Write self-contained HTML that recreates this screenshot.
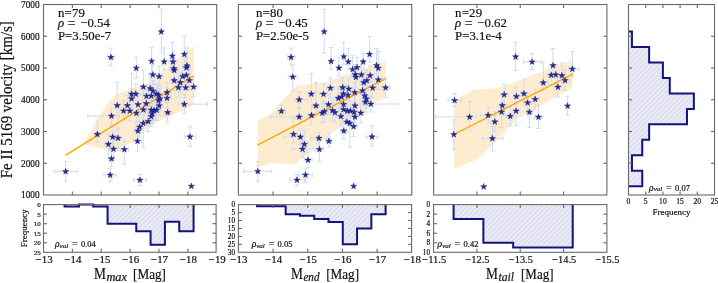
<!DOCTYPE html><html><head><meta charset="utf-8"><style>html,body{margin:0;padding:0;background:#fff;overflow:hidden;}svg{display:block;}</style></head><body>
<svg width="718" height="283" viewBox="0 0 718 283" font-family='"Liberation Serif", serif'>
<defs><pattern id="hatch" width="3.5" height="3.5" patternUnits="userSpaceOnUse" patternTransform="rotate(45)"><rect width="3.5" height="3.5" fill="#efeff8"/><rect width="0.9" height="3.5" fill="#d0d0e8"/><rect x="1.75" width="0.5" height="3.5" fill="#e2e2f2"/></pattern></defs>
<rect width="718" height="283" fill="#fff"/>
<polygon points="83.3,144.2 90,131.9 97.7,118.7 106.5,105.5 113.1,96.8 120.8,92.4 128,90.2 145,84.5 155.3,77.6 193.6,46.1 193.6,105.4 170,116 156,122.4 145.8,130 134.3,140 120,150.7 104.2,148.9" fill="#feecd0"/>
<g stroke="#cfdbee" stroke-width="1" fill="none">
<path d="M161.3,9.2V53.0M159.1,9.2h4.4M159.1,53.0h4.4"/>
<path d="M110.9,48.2V65.6M108.7,48.2h4.4M108.7,65.6h4.4M107.1,57.2H114.7M107.1,55.0v4.4M114.7,55.0v4.4"/>
<path d="M136.3,57.1V78.1M134.1,57.1h4.4M134.1,78.1h4.4"/>
<path d="M151.6,47.3V72.5M149.4,47.3h4.4M149.4,72.5h4.4"/>
<path d="M164.2,47.9V69.7M162.0,47.9h4.4M162.0,69.7h4.4"/>
<path d="M172.4,42.6V64.0M170.2,42.6h4.4M170.2,64.0h4.4"/>
<path d="M173.0,51.7V71.7M170.8,51.7h4.4M170.8,71.7h4.4M169.0,61.7H177.0M169.0,59.5v4.4M177.0,59.5v4.4"/>
<path d="M184.3,36.5V62.2M182.1,36.5h4.4M182.1,62.2h4.4"/>
<path d="M187.0,47.9V73.7M184.8,47.9h4.4M184.8,73.7h4.4"/>
<path d="M173.9,58.5V78.5M171.7,58.5h4.4M171.7,78.5h4.4M169.9,68.5H177.9M169.9,66.3v4.4M177.9,66.3v4.4"/>
<path d="M152.8,64.7V84.7M150.6,64.7h4.4M150.6,84.7h4.4M148.8,74.7H156.8M148.8,72.5v4.4M156.8,72.5v4.4"/>
<path d="M159.1,66.3V86.3M156.9,66.3h4.4M156.9,86.3h4.4M155.1,76.3H163.1M155.1,74.1v4.4M163.1,74.1v4.4"/>
<path d="M182.7,66.3V86.3M180.5,66.3h4.4M180.5,86.3h4.4M178.7,76.3H186.7M178.7,74.1v4.4M186.7,74.1v4.4"/>
<path d="M186.3,65.1V85.1M184.1,65.1h4.4M184.1,85.1h4.4M182.3,75.1H190.3M182.3,72.9v4.4M190.3,72.9v4.4"/>
<path d="M174.2,70.5V90.5M172.0,70.5h4.4M172.0,90.5h4.4M170.2,80.5H178.2M170.2,78.3v4.4M178.2,78.3v4.4"/>
<path d="M180.3,72.4V92.4M178.1,72.4h4.4M178.1,92.4h4.4M176.3,82.4H184.3M176.3,80.2v4.4M184.3,80.2v4.4"/>
<path d="M189.4,70.3V90.3M187.2,70.3h4.4M187.2,90.3h4.4M185.4,80.3H193.4M185.4,78.1v4.4M193.4,78.1v4.4"/>
<path d="M143.4,70.1V94.8M141.2,70.1h4.4M141.2,94.8h4.4M140.4,86.8H146.4M140.4,84.6v4.4M146.4,84.6v4.4"/>
<path d="M150.2,78.5V98.5M148.0,78.5h4.4M148.0,98.5h4.4M146.2,88.5H154.2M146.2,86.3v4.4M154.2,86.3v4.4"/>
<path d="M153.0,80.8V100.8M150.8,80.8h4.4M150.8,100.8h4.4M149.0,90.8H157.0M149.0,88.6v4.4M157.0,88.6v4.4"/>
<path d="M156.4,83.9V103.9M154.2,83.9h4.4M154.2,103.9h4.4M152.4,93.9H160.4M152.4,91.7v4.4M160.4,91.7v4.4"/>
<path d="M158.6,85.0V105.0M156.4,85.0h4.4M156.4,105.0h4.4M154.6,95.0H162.6M154.6,92.8v4.4M162.6,92.8v4.4"/>
<path d="M146.5,86.1V106.1M144.3,86.1h4.4M144.3,106.1h4.4M142.5,96.1H150.5M142.5,93.9v4.4M150.5,93.9v4.4"/>
<path d="M151.3,85.9V105.9M149.1,85.9h4.4M149.1,105.9h4.4M147.3,95.9H155.3M147.3,93.7v4.4M155.3,93.7v4.4"/>
<path d="M167.1,82.5V102.5M164.9,82.5h4.4M164.9,102.5h4.4M163.1,92.5H171.1M163.1,90.3v4.4M171.1,90.3v4.4"/>
<path d="M167.1,88.1V108.1M164.9,88.1h4.4M164.9,108.1h4.4M163.1,98.1H171.1M163.1,95.9v4.4M171.1,95.9v4.4"/>
<path d="M159.8,88.7V108.7M157.6,88.7h4.4M157.6,108.7h4.4M155.8,98.7H163.8M155.8,96.5v4.4M163.8,96.5v4.4"/>
<path d="M178.4,77.4V97.4M176.2,77.4h4.4M176.2,97.4h4.4M174.4,87.4H182.4M174.4,85.2v4.4M182.4,85.2v4.4"/>
<path d="M185.7,77.6V97.6M183.5,77.6h4.4M183.5,97.6h4.4M181.7,87.6H189.7M181.7,85.4v4.4M189.7,85.4v4.4"/>
<path d="M193.6,76.8V96.8M191.4,76.8h4.4M191.4,96.8h4.4M189.6,86.8H197.6M189.6,84.6v4.4M197.6,84.6v4.4"/>
<path d="M131.6,73.3V101.9M129.4,73.3h4.4M129.4,101.9h4.4M128.6,93.9H134.6M128.6,91.7v4.4M134.6,91.7v4.4"/>
<path d="M135.8,83.9V103.9M133.6,83.9h4.4M133.6,103.9h4.4M131.8,93.9H139.8M131.8,91.7v4.4M139.8,91.7v4.4"/>
<path d="M131.6,88.6V108.6M129.4,88.6h4.4M129.4,108.6h4.4M127.6,98.6H135.6M127.6,96.4v4.4M135.6,96.4v4.4"/>
<path d="M117.2,82.4V130.4M115.0,82.4h4.4M115.0,130.4h4.4M114.2,105.4H120.2M114.2,103.2v4.4M120.2,103.2v4.4"/>
<path d="M127.4,95.4V115.4M125.2,95.4h4.4M125.2,115.4h4.4M123.4,105.4H131.4M123.4,103.2v4.4M131.4,103.2v4.4"/>
<path d="M138.0,94.5V114.5M135.8,94.5h4.4M135.8,114.5h4.4M134.0,104.5H142.0M134.0,102.3v4.4M142.0,102.3v4.4"/>
<path d="M146.2,93.4V113.4M144.0,93.4h4.4M144.0,113.4h4.4M142.2,103.4H150.2M142.2,101.2v4.4M150.2,101.2v4.4"/>
<path d="M158.6,90.5V110.5M156.4,90.5h4.4M156.4,110.5h4.4M154.6,100.5H162.6M154.6,98.3v4.4M162.6,98.3v4.4"/>
<path d="M159.2,95.6V115.6M157.0,95.6h4.4M157.0,115.6h4.4M155.2,105.6H163.2M155.2,103.4v4.4M163.2,103.4v4.4"/>
<path d="M184.3,94.7V113.5M182.1,94.7h4.4M182.1,113.5h4.4M178.3,104.2H207.4M178.3,102.0v4.4M207.4,102.0v4.4"/>
<path d="M123.6,100.8V120.8M121.4,100.8h4.4M121.4,120.8h4.4M119.6,110.8H127.6M119.6,108.6v4.4M127.6,108.6v4.4"/>
<path d="M129.9,100.8V120.8M127.7,100.8h4.4M127.7,120.8h4.4M125.9,110.8H133.9M125.9,108.6v4.4M133.9,108.6v4.4"/>
<path d="M136.4,103.1V123.1M134.2,103.1h4.4M134.2,123.1h4.4M132.4,113.1H140.4M132.4,110.9v4.4M140.4,110.9v4.4"/>
<path d="M143.4,99.6V119.6M141.2,99.6h4.4M141.2,119.6h4.4M139.4,109.6H147.4M139.4,107.4v4.4M147.4,107.4v4.4"/>
<path d="M151.3,99.9V119.9M149.1,99.9h4.4M149.1,119.9h4.4M147.3,109.9H155.3M147.3,107.7v4.4M155.3,107.7v4.4"/>
<path d="M154.1,100.4V120.4M151.9,100.4h4.4M151.9,120.4h4.4M150.1,110.4H158.1M150.1,108.2v4.4M158.1,108.2v4.4"/>
<path d="M156.6,100.0V120.0M154.4,100.0h4.4M154.4,120.0h4.4M152.6,110.0H160.6M152.6,107.8v4.4M160.6,107.8v4.4"/>
<path d="M152.1,103.6V123.6M149.9,103.6h4.4M149.9,123.6h4.4M148.1,113.6H156.1M148.1,111.4v4.4M156.1,111.4v4.4"/>
<path d="M151.3,106.5V126.5M149.1,106.5h4.4M149.1,126.5h4.4M147.3,116.5H155.3M147.3,114.3v4.4M155.3,114.3v4.4"/>
<path d="M167.7,102.4V122.4M165.5,102.4h4.4M165.5,122.4h4.4M163.7,112.4H171.7M163.7,110.2v4.4M171.7,110.2v4.4"/>
<path d="M111.5,108.4V125.4M109.3,108.4h4.4M109.3,125.4h4.4M87.8,116.0H119.5M87.8,113.8v4.4M119.5,113.8v4.4"/>
<path d="M148.2,111.4V131.4M146.0,111.4h4.4M146.0,131.4h4.4M144.2,121.4H152.2M144.2,119.2v4.4M152.2,119.2v4.4"/>
<path d="M143.3,115.2V147.2M141.1,115.2h4.4M141.1,147.2h4.4M140.3,123.2H146.3M140.3,121.0v4.4M146.3,121.0v4.4"/>
<path d="M139.7,117.0V137.0M137.5,117.0h4.4M137.5,137.0h4.4M135.7,127.0H143.7M135.7,124.8v4.4M143.7,124.8v4.4"/>
<path d="M137.9,120.8V140.8M135.7,120.8h4.4M135.7,140.8h4.4M133.9,130.8H141.9M133.9,128.6v4.4M141.9,128.6v4.4"/>
<path d="M137.5,131.1V151.1M135.3,131.1h4.4M135.3,151.1h4.4M133.5,141.1H141.5M133.5,138.9v4.4M141.5,138.9v4.4"/>
<path d="M190.0,126.7V146.2M187.8,126.7h4.4M187.8,146.2h4.4M184.2,136.7H195.8M184.2,134.5v4.4M195.8,134.5v4.4"/>
<path d="M139.9,174.4V185.6M137.7,174.4h4.4M137.7,185.6h4.4M133.3,180.0H146.5M133.3,177.8v4.4M146.5,177.8v4.4"/>
<path d="M191.4,186.1V186.1M189.2,186.1h4.4M189.2,186.1h4.4"/>
<path d="M97.3,120.2V142.2M95.1,120.2h4.4M95.1,142.2h4.4M94.3,134.2H100.3M94.3,132.0v4.4M100.3,132.0v4.4"/>
<path d="M112.7,126.9V146.9M110.5,126.9h4.4M110.5,146.9h4.4M108.7,136.9H116.7M108.7,134.7v4.4M116.7,134.7v4.4"/>
<path d="M118.1,128.1V148.1M115.9,128.1h4.4M115.9,148.1h4.4M114.1,138.1H122.1M114.1,135.9v4.4M122.1,135.9v4.4"/>
<path d="M108.4,134.2V154.2M106.2,134.2h4.4M106.2,154.2h4.4M104.4,144.2H112.4M104.4,142.0v4.4M112.4,142.0v4.4"/>
<path d="M113.5,139.0V159.0M111.3,139.0h4.4M111.3,159.0h4.4M109.5,149.0H117.5M109.5,146.8v4.4M117.5,146.8v4.4"/>
<path d="M124.4,141.4V163.8M122.2,141.4h4.4M122.2,163.8h4.4M120.4,149.4H128.4M120.4,147.2v4.4M128.4,147.2v4.4"/>
<path d="M111.5,150.7V166.7M109.3,150.7h4.4M109.3,166.7h4.4M108.5,158.7H114.5M108.5,156.5v4.4M114.5,156.5v4.4"/>
<path d="M65.6,161.4V181.0M63.4,161.4h4.4M63.4,181.0h4.4M54.0,171.4H77.3M54.0,169.2v4.4M77.3,169.2v4.4"/>
<path d="M110.2,168.3V181.6M108.0,168.3h4.4M108.0,181.6h4.4M104.0,175.0H116.1M104.0,172.8v4.4M116.1,172.8v4.4"/>
<path d="M174.3,60.2V80.2M172.1,60.2h4.4M172.1,80.2h4.4M170.3,70.2H178.3M170.3,68.0v4.4M178.3,68.0v4.4"/>
<path d="M186.4,57.6V77.6M184.2,57.6h4.4M184.2,77.6h4.4M182.4,67.6H190.4M182.4,65.4v4.4M190.4,65.4v4.4"/>
</g>
<line x1="65.4" y1="155.4" x2="193.6" y2="75.7" stroke="#ffa500" stroke-width="1.3"/>
<g fill="#28288e" stroke="#1c1c82" stroke-width="0.45"><polygon points="161.30,28.45 162.03,30.70 164.39,30.70 162.48,32.08 163.21,34.33 161.30,32.94 159.39,34.33 160.12,32.08 158.21,30.70 160.57,30.70"/><polygon points="110.90,54.05 111.63,56.30 113.99,56.30 112.08,57.68 112.81,59.93 110.90,58.54 108.99,59.93 109.72,57.68 107.81,56.30 110.17,56.30"/><polygon points="136.30,64.95 137.03,67.20 139.39,67.20 137.48,68.58 138.21,70.83 136.30,69.44 134.39,70.83 135.12,68.58 133.21,67.20 135.57,67.20"/><polygon points="151.60,57.95 152.33,60.20 154.69,60.20 152.78,61.58 153.51,63.83 151.60,62.44 149.69,63.83 150.42,61.58 148.51,60.20 150.87,60.20"/><polygon points="164.20,58.55 164.93,60.80 167.29,60.80 165.38,62.18 166.11,64.43 164.20,63.04 162.29,64.43 163.02,62.18 161.11,60.80 163.47,60.80"/><polygon points="172.40,52.85 173.13,55.10 175.49,55.10 173.58,56.48 174.31,58.73 172.40,57.34 170.49,58.73 171.22,56.48 169.31,55.10 171.67,55.10"/><polygon points="173.00,58.55 173.73,60.80 176.09,60.80 174.18,62.18 174.91,64.43 173.00,63.04 171.09,64.43 171.82,62.18 169.91,60.80 172.27,60.80"/><polygon points="184.30,51.05 185.03,53.30 187.39,53.30 185.48,54.68 186.21,56.93 184.30,55.54 182.39,56.93 183.12,54.68 181.21,53.30 183.57,53.30"/><polygon points="187.00,62.55 187.73,64.80 190.09,64.80 188.18,66.18 188.91,68.43 187.00,67.04 185.09,68.43 185.82,66.18 183.91,64.80 186.27,64.80"/><polygon points="173.90,65.35 174.63,67.60 176.99,67.60 175.08,68.98 175.81,71.23 173.90,69.84 171.99,71.23 172.72,68.98 170.81,67.60 173.17,67.60"/><polygon points="152.80,71.55 153.53,73.80 155.89,73.80 153.98,75.18 154.71,77.43 152.80,76.04 150.89,77.43 151.62,75.18 149.71,73.80 152.07,73.80"/><polygon points="159.10,73.15 159.83,75.40 162.19,75.40 160.28,76.78 161.01,79.03 159.10,77.64 157.19,79.03 157.92,76.78 156.01,75.40 158.37,75.40"/><polygon points="182.70,73.15 183.43,75.40 185.79,75.40 183.88,76.78 184.61,79.03 182.70,77.64 180.79,79.03 181.52,76.78 179.61,75.40 181.97,75.40"/><polygon points="186.30,71.95 187.03,74.20 189.39,74.20 187.48,75.58 188.21,77.83 186.30,76.44 184.39,77.83 185.12,75.58 183.21,74.20 185.57,74.20"/><polygon points="174.20,77.35 174.93,79.60 177.29,79.60 175.38,80.98 176.11,83.23 174.20,81.84 172.29,83.23 173.02,80.98 171.11,79.60 173.47,79.60"/><polygon points="180.30,79.25 181.03,81.50 183.39,81.50 181.48,82.88 182.21,85.13 180.30,83.74 178.39,85.13 179.12,82.88 177.21,81.50 179.57,81.50"/><polygon points="189.40,77.15 190.13,79.40 192.49,79.40 190.58,80.78 191.31,83.03 189.40,81.64 187.49,83.03 188.22,80.78 186.31,79.40 188.67,79.40"/><polygon points="143.40,83.65 144.13,85.90 146.49,85.90 144.58,87.28 145.31,89.53 143.40,88.14 141.49,89.53 142.22,87.28 140.31,85.90 142.67,85.90"/><polygon points="150.20,85.35 150.93,87.60 153.29,87.60 151.38,88.98 152.11,91.23 150.20,89.84 148.29,91.23 149.02,88.98 147.11,87.60 149.47,87.60"/><polygon points="153.00,87.65 153.73,89.90 156.09,89.90 154.18,91.28 154.91,93.53 153.00,92.14 151.09,93.53 151.82,91.28 149.91,89.90 152.27,89.90"/><polygon points="156.40,90.75 157.13,93.00 159.49,93.00 157.58,94.38 158.31,96.63 156.40,95.24 154.49,96.63 155.22,94.38 153.31,93.00 155.67,93.00"/><polygon points="158.60,91.85 159.33,94.10 161.69,94.10 159.78,95.48 160.51,97.73 158.60,96.34 156.69,97.73 157.42,95.48 155.51,94.10 157.87,94.10"/><polygon points="146.50,92.95 147.23,95.20 149.59,95.20 147.68,96.58 148.41,98.83 146.50,97.44 144.59,98.83 145.32,96.58 143.41,95.20 145.77,95.20"/><polygon points="151.30,92.75 152.03,95.00 154.39,95.00 152.48,96.38 153.21,98.63 151.30,97.24 149.39,98.63 150.12,96.38 148.21,95.00 150.57,95.00"/><polygon points="167.10,89.35 167.83,91.60 170.19,91.60 168.28,92.98 169.01,95.23 167.10,93.84 165.19,95.23 165.92,92.98 164.01,91.60 166.37,91.60"/><polygon points="167.10,94.95 167.83,97.20 170.19,97.20 168.28,98.58 169.01,100.83 167.10,99.44 165.19,100.83 165.92,98.58 164.01,97.20 166.37,97.20"/><polygon points="159.80,95.55 160.53,97.80 162.89,97.80 160.98,99.18 161.71,101.43 159.80,100.04 157.89,101.43 158.62,99.18 156.71,97.80 159.07,97.80"/><polygon points="178.40,84.25 179.13,86.50 181.49,86.50 179.58,87.88 180.31,90.13 178.40,88.74 176.49,90.13 177.22,87.88 175.31,86.50 177.67,86.50"/><polygon points="185.70,84.45 186.43,86.70 188.79,86.70 186.88,88.08 187.61,90.33 185.70,88.94 183.79,90.33 184.52,88.08 182.61,86.70 184.97,86.70"/><polygon points="193.60,83.65 194.33,85.90 196.69,85.90 194.78,87.28 195.51,89.53 193.60,88.14 191.69,89.53 192.42,87.28 190.51,85.90 192.87,85.90"/><polygon points="131.60,90.75 132.33,93.00 134.69,93.00 132.78,94.38 133.51,96.63 131.60,95.24 129.69,96.63 130.42,94.38 128.51,93.00 130.87,93.00"/><polygon points="135.80,90.75 136.53,93.00 138.89,93.00 136.98,94.38 137.71,96.63 135.80,95.24 133.89,96.63 134.62,94.38 132.71,93.00 135.07,93.00"/><polygon points="131.60,95.45 132.33,97.70 134.69,97.70 132.78,99.08 133.51,101.33 131.60,99.94 129.69,101.33 130.42,99.08 128.51,97.70 130.87,97.70"/><polygon points="117.20,102.25 117.93,104.50 120.29,104.50 118.38,105.88 119.11,108.13 117.20,106.74 115.29,108.13 116.02,105.88 114.11,104.50 116.47,104.50"/><polygon points="127.40,102.25 128.13,104.50 130.49,104.50 128.58,105.88 129.31,108.13 127.40,106.74 125.49,108.13 126.22,105.88 124.31,104.50 126.67,104.50"/><polygon points="138.00,101.35 138.73,103.60 141.09,103.60 139.18,104.98 139.91,107.23 138.00,105.84 136.09,107.23 136.82,104.98 134.91,103.60 137.27,103.60"/><polygon points="146.20,100.25 146.93,102.50 149.29,102.50 147.38,103.88 148.11,106.13 146.20,104.74 144.29,106.13 145.02,103.88 143.11,102.50 145.47,102.50"/><polygon points="158.60,97.35 159.33,99.60 161.69,99.60 159.78,100.98 160.51,103.23 158.60,101.84 156.69,103.23 157.42,100.98 155.51,99.60 157.87,99.60"/><polygon points="159.20,102.45 159.93,104.70 162.29,104.70 160.38,106.08 161.11,108.33 159.20,106.94 157.29,108.33 158.02,106.08 156.11,104.70 158.47,104.70"/><polygon points="184.30,101.05 185.03,103.30 187.39,103.30 185.48,104.68 186.21,106.93 184.30,105.54 182.39,106.93 183.12,104.68 181.21,103.30 183.57,103.30"/><polygon points="123.60,107.65 124.33,109.90 126.69,109.90 124.78,111.28 125.51,113.53 123.60,112.14 121.69,113.53 122.42,111.28 120.51,109.90 122.87,109.90"/><polygon points="129.90,107.65 130.63,109.90 132.99,109.90 131.08,111.28 131.81,113.53 129.90,112.14 127.99,113.53 128.72,111.28 126.81,109.90 129.17,109.90"/><polygon points="136.40,109.95 137.13,112.20 139.49,112.20 137.58,113.58 138.31,115.83 136.40,114.44 134.49,115.83 135.22,113.58 133.31,112.20 135.67,112.20"/><polygon points="143.40,106.45 144.13,108.70 146.49,108.70 144.58,110.08 145.31,112.33 143.40,110.94 141.49,112.33 142.22,110.08 140.31,108.70 142.67,108.70"/><polygon points="151.30,106.75 152.03,109.00 154.39,109.00 152.48,110.38 153.21,112.63 151.30,111.24 149.39,112.63 150.12,110.38 148.21,109.00 150.57,109.00"/><polygon points="154.10,107.25 154.83,109.50 157.19,109.50 155.28,110.88 156.01,113.13 154.10,111.74 152.19,113.13 152.92,110.88 151.01,109.50 153.37,109.50"/><polygon points="156.60,106.85 157.33,109.10 159.69,109.10 157.78,110.48 158.51,112.73 156.60,111.34 154.69,112.73 155.42,110.48 153.51,109.10 155.87,109.10"/><polygon points="152.10,110.45 152.83,112.70 155.19,112.70 153.28,114.08 154.01,116.33 152.10,114.94 150.19,116.33 150.92,114.08 149.01,112.70 151.37,112.70"/><polygon points="151.30,113.35 152.03,115.60 154.39,115.60 152.48,116.98 153.21,119.23 151.30,117.84 149.39,119.23 150.12,116.98 148.21,115.60 150.57,115.60"/><polygon points="167.70,109.25 168.43,111.50 170.79,111.50 168.88,112.88 169.61,115.13 167.70,113.74 165.79,115.13 166.52,112.88 164.61,111.50 166.97,111.50"/><polygon points="111.50,112.85 112.23,115.10 114.59,115.10 112.68,116.48 113.41,118.73 111.50,117.34 109.59,118.73 110.32,116.48 108.41,115.10 110.77,115.10"/><polygon points="148.20,118.25 148.93,120.50 151.29,120.50 149.38,121.88 150.11,124.13 148.20,122.74 146.29,124.13 147.02,121.88 145.11,120.50 147.47,120.50"/><polygon points="143.30,120.05 144.03,122.30 146.39,122.30 144.48,123.68 145.21,125.93 143.30,124.54 141.39,125.93 142.12,123.68 140.21,122.30 142.57,122.30"/><polygon points="139.70,123.85 140.43,126.10 142.79,126.10 140.88,127.48 141.61,129.73 139.70,128.34 137.79,129.73 138.52,127.48 136.61,126.10 138.97,126.10"/><polygon points="137.90,127.65 138.63,129.90 140.99,129.90 139.08,131.28 139.81,133.53 137.90,132.14 135.99,133.53 136.72,131.28 134.81,129.90 137.17,129.90"/><polygon points="137.50,137.95 138.23,140.20 140.59,140.20 138.68,141.58 139.41,143.83 137.50,142.44 135.59,143.83 136.32,141.58 134.41,140.20 136.77,140.20"/><polygon points="190.00,133.55 190.73,135.80 193.09,135.80 191.18,137.18 191.91,139.43 190.00,138.04 188.09,139.43 188.82,137.18 186.91,135.80 189.27,135.80"/><polygon points="139.90,176.85 140.63,179.10 142.99,179.10 141.08,180.48 141.81,182.73 139.90,181.34 137.99,182.73 138.72,180.48 136.81,179.10 139.17,179.10"/><polygon points="191.40,182.95 192.13,185.20 194.49,185.20 192.58,186.58 193.31,188.83 191.40,187.44 189.49,188.83 190.22,186.58 188.31,185.20 190.67,185.20"/><polygon points="97.30,131.05 98.03,133.30 100.39,133.30 98.48,134.68 99.21,136.93 97.30,135.54 95.39,136.93 96.12,134.68 94.21,133.30 96.57,133.30"/><polygon points="112.70,133.75 113.43,136.00 115.79,136.00 113.88,137.38 114.61,139.63 112.70,138.24 110.79,139.63 111.52,137.38 109.61,136.00 111.97,136.00"/><polygon points="118.10,134.95 118.83,137.20 121.19,137.20 119.28,138.58 120.01,140.83 118.10,139.44 116.19,140.83 116.92,138.58 115.01,137.20 117.37,137.20"/><polygon points="108.40,141.05 109.13,143.30 111.49,143.30 109.58,144.68 110.31,146.93 108.40,145.54 106.49,146.93 107.22,144.68 105.31,143.30 107.67,143.30"/><polygon points="113.50,145.85 114.23,148.10 116.59,148.10 114.68,149.48 115.41,151.73 113.50,150.34 111.59,151.73 112.32,149.48 110.41,148.10 112.77,148.10"/><polygon points="124.40,146.25 125.13,148.50 127.49,148.50 125.58,149.88 126.31,152.13 124.40,150.74 122.49,152.13 123.22,149.88 121.31,148.50 123.67,148.50"/><polygon points="111.50,155.55 112.23,157.80 114.59,157.80 112.68,159.18 113.41,161.43 111.50,160.04 109.59,161.43 110.32,159.18 108.41,157.80 110.77,157.80"/><polygon points="65.60,168.25 66.33,170.50 68.69,170.50 66.78,171.88 67.51,174.13 65.60,172.74 63.69,174.13 64.42,171.88 62.51,170.50 64.87,170.50"/><polygon points="110.20,171.85 110.93,174.10 113.29,174.10 111.38,175.48 112.11,177.73 110.20,176.34 108.29,177.73 109.02,175.48 107.11,174.10 109.47,174.10"/><polygon points="174.30,67.05 175.03,69.30 177.39,69.30 175.48,70.68 176.21,72.93 174.30,71.54 172.39,72.93 173.12,70.68 171.21,69.30 173.57,69.30"/><polygon points="186.40,64.45 187.13,66.70 189.49,66.70 187.58,68.08 188.31,70.33 186.40,68.94 184.49,70.33 185.22,68.08 183.31,66.70 185.67,66.70"/></g>
<polygon points="257.5,120.8 270.7,114.2 282.8,100 286.5,96 296.2,86 325,82 385.6,60.8 385.6,96.5 340.8,126 325,138.5 304.4,156.7 294.5,164.2 271.2,163.1 257.7,168" fill="#feecd0"/>
<g stroke="#cfdbee" stroke-width="1" fill="none">
<path d="M324.2,9.2V53.0M322.0,9.2h4.4M322.0,53.0h4.4"/>
<path d="M291.1,48.1V65.2M288.9,48.1h4.4M288.9,65.2h4.4M287.5,57.2H295.0M287.5,55.0v4.4M295.0,55.0v4.4"/>
<path d="M331.1,47.5V69.2M328.9,47.5h4.4M328.9,69.2h4.4"/>
<path d="M338.9,57.6V75.9M336.7,57.6h4.4M336.7,75.9h4.4"/>
<path d="M343.8,42.3V64.6M341.6,42.3h4.4M341.6,64.6h4.4"/>
<path d="M348.3,48.4V69.7M346.1,48.4h4.4M346.1,69.7h4.4"/>
<path d="M352.6,55.4V77.3M350.4,55.4h4.4M350.4,77.3h4.4"/>
<path d="M357.1,57.4V77.4M354.9,57.4h4.4M354.9,77.4h4.4M353.1,67.4H361.1M353.1,65.2v4.4M361.1,65.2v4.4"/>
<path d="M363.2,53.6V69.7M361.0,53.6h4.4M361.0,69.7h4.4"/>
<path d="M369.6,36.5V62.2M367.4,36.5h4.4M367.4,62.2h4.4"/>
<path d="M376.5,48.4V73.3M374.3,48.4h4.4M374.3,73.3h4.4"/>
<path d="M378.3,51.5V76.1M376.1,51.5h4.4M376.1,76.1h4.4"/>
<path d="M355.3,64.5V84.5M353.1,64.5h4.4M353.1,84.5h4.4M351.3,74.5H359.3M351.3,72.3v4.4M359.3,72.3v4.4"/>
<path d="M355.9,67.1V87.1M353.7,67.1h4.4M353.7,87.1h4.4M351.9,77.1H359.9M351.9,74.9v4.4M359.9,74.9v4.4"/>
<path d="M361.4,64.7V84.7M359.2,64.7h4.4M359.2,84.7h4.4M357.4,74.7H365.4M357.4,72.5v4.4M365.4,72.5v4.4"/>
<path d="M370.1,65.5V85.5M367.9,65.5h4.4M367.9,85.5h4.4M366.1,75.5H374.1M366.1,73.3v4.4M374.1,73.3v4.4"/>
<path d="M363.8,72.4V92.4M361.6,72.4h4.4M361.6,92.4h4.4M359.8,82.4H367.8M359.8,80.2v4.4M367.8,80.2v4.4"/>
<path d="M366.8,70.5V90.5M364.6,70.5h4.4M364.6,90.5h4.4M362.8,80.5H370.8M362.8,78.3v4.4M370.8,78.3v4.4"/>
<path d="M378.3,69.6V89.6M376.1,69.6h4.4M376.1,89.6h4.4M374.3,79.6H382.3M374.3,77.4v4.4M382.3,77.4v4.4"/>
<path d="M330.5,78.0V98.0M328.3,78.0h4.4M328.3,98.0h4.4M326.5,88.0H334.5M326.5,85.8v4.4M334.5,85.8v4.4"/>
<path d="M342.6,77.5V97.5M340.4,77.5h4.4M340.4,97.5h4.4M338.6,87.5H346.6M338.6,85.3v4.4M346.6,85.3v4.4"/>
<path d="M348.7,78.8V98.8M346.5,78.8h4.4M346.5,98.8h4.4M344.7,88.8H352.7M344.7,86.6v4.4M352.7,86.6v4.4"/>
<path d="M372.7,77.8V97.8M370.5,77.8h4.4M370.5,97.8h4.4M368.7,87.8H376.7M368.7,85.6v4.4M376.7,85.6v4.4"/>
<path d="M385.6,77.6V97.6M383.4,77.6h4.4M383.4,97.6h4.4M381.6,87.6H389.6M381.6,85.4v4.4M389.6,85.4v4.4"/>
<path d="M362.5,80.6V100.6M360.3,80.6h4.4M360.3,100.6h4.4M358.5,90.6H366.5M358.5,88.4v4.4M366.5,88.4v4.4"/>
<path d="M354.7,82.4V102.4M352.5,82.4h4.4M352.5,102.4h4.4M350.7,92.4H358.7M350.7,90.2v4.4M358.7,90.2v4.4"/>
<path d="M343.5,83.6V103.6M341.3,83.6h4.4M341.3,103.6h4.4M339.5,93.6H347.5M339.5,91.4v4.4M347.5,91.4v4.4"/>
<path d="M348.0,85.1V105.1M345.8,85.1h4.4M345.8,105.1h4.4M344.0,95.1H352.0M344.0,92.9v4.4M352.0,92.9v4.4"/>
<path d="M338.3,88.2V108.2M336.1,88.2h4.4M336.1,108.2h4.4M334.3,98.2H342.3M334.3,96.0v4.4M342.3,96.0v4.4"/>
<path d="M341.6,86.8V106.8M339.4,86.8h4.4M339.4,106.8h4.4M337.6,96.8H345.6M337.6,94.6v4.4M345.6,94.6v4.4"/>
<path d="M364.8,85.6V105.6M362.6,85.6h4.4M362.6,105.6h4.4M360.8,95.6H368.8M360.8,93.4v4.4M368.8,93.4v4.4"/>
<path d="M366.5,88.8V108.8M364.3,88.8h4.4M364.3,108.8h4.4M362.5,98.8H370.5M362.5,96.6v4.4M370.5,96.6v4.4"/>
<path d="M365.4,92.0V112.0M363.2,92.0h4.4M363.2,112.0h4.4M361.4,102.0H369.4M361.4,99.8v4.4M369.4,99.8v4.4"/>
<path d="M370.8,96.0V112.0M368.6,96.0h4.4M368.6,112.0h4.4M366.8,104.0H398.3M366.8,101.8v4.4M398.3,101.8v4.4"/>
<path d="M328.5,94.5V114.5M326.3,94.5h4.4M326.3,114.5h4.4M324.5,104.5H332.5M324.5,102.3v4.4M332.5,102.3v4.4"/>
<path d="M343.6,94.2V114.2M341.4,94.2h4.4M341.4,114.2h4.4M339.6,104.2H347.6M339.6,102.0v4.4M347.6,102.0v4.4"/>
<path d="M355.0,95.7V115.7M352.8,95.7h4.4M352.8,115.7h4.4M351.0,105.7H359.0M351.0,103.5v4.4M359.0,103.5v4.4"/>
<path d="M323.5,84.0V104.0M321.3,84.0h4.4M321.3,104.0h4.4M319.5,94.0H327.5M319.5,91.8v4.4M327.5,91.8v4.4"/>
<path d="M322.3,102.9V122.9M320.1,102.9h4.4M320.1,122.9h4.4M318.3,112.9H326.3M318.3,110.7v4.4M326.3,110.7v4.4"/>
<path d="M324.4,101.5V121.5M322.2,101.5h4.4M322.2,121.5h4.4M320.4,111.5H328.4M320.4,109.3v4.4M328.4,109.3v4.4"/>
<path d="M332.5,100.4V120.4M330.3,100.4h4.4M330.3,120.4h4.4M328.5,110.4H336.5M328.5,108.2v4.4M336.5,108.2v4.4"/>
<path d="M335.0,102.5V122.5M332.8,102.5h4.4M332.8,122.5h4.4M331.0,112.5H339.0M331.0,110.3v4.4M339.0,110.3v4.4"/>
<path d="M343.5,99.5V119.5M341.3,99.5h4.4M341.3,119.5h4.4M339.5,109.5H347.5M339.5,107.3v4.4M347.5,107.3v4.4"/>
<path d="M347.3,100.8V120.8M345.1,100.8h4.4M345.1,120.8h4.4M343.3,110.8H351.3M343.3,108.6v4.4M351.3,108.6v4.4"/>
<path d="M350.3,100.8V120.8M348.1,100.8h4.4M348.1,120.8h4.4M346.3,110.8H354.3M346.3,108.6v4.4M354.3,108.6v4.4"/>
<path d="M354.1,102.1V122.1M351.9,102.1h4.4M351.9,122.1h4.4M350.1,112.1H358.1M350.1,109.9v4.4M358.1,109.9v4.4"/>
<path d="M360.8,102.9V122.9M358.6,102.9h4.4M358.6,122.9h4.4M356.8,112.9H364.8M356.8,110.7v4.4M364.8,110.7v4.4"/>
<path d="M340.9,106.3V126.3M338.7,106.3h4.4M338.7,126.3h4.4M336.9,116.3H344.9M336.9,114.1v4.4M344.9,114.1v4.4"/>
<path d="M354.9,106.9V126.9M352.7,106.9h4.4M352.7,126.9h4.4M350.9,116.9H358.9M350.9,114.7v4.4M358.9,114.7v4.4"/>
<path d="M346.9,111.8V131.8M344.7,111.8h4.4M344.7,131.8h4.4M342.9,121.8H350.9M342.9,119.6v4.4M350.9,119.6v4.4"/>
<path d="M349.8,115.2V147.2M347.6,115.2h4.4M347.6,147.2h4.4M346.8,123.2H352.8M346.8,121.0v4.4M352.8,121.0v4.4"/>
<path d="M353.6,116.5V136.5M351.4,116.5h4.4M351.4,136.5h4.4M349.6,126.5H357.6M349.6,124.3v4.4M357.6,124.3v4.4"/>
<path d="M343.8,122.8V138.8M341.6,122.8h4.4M341.6,138.8h4.4M340.8,130.8H346.8M340.8,128.6v4.4M346.8,128.6v4.4"/>
<path d="M328.9,133.1V147.1M326.7,133.1h4.4M326.7,147.1h4.4M325.9,141.1H331.9M325.9,138.9v4.4M331.9,138.9v4.4"/>
<path d="M372.0,126.0V146.0M369.8,126.0h4.4M369.8,146.0h4.4M366.2,136.7H377.8M366.2,134.5v4.4M377.8,134.5v4.4"/>
<path d="M353.6,186.1V186.1M351.4,186.1h4.4M351.4,186.1h4.4"/>
<path d="M292.8,64.9V90.8M290.6,64.9h4.4M290.6,90.8h4.4M288.3,76.9H297.4M288.3,74.7v4.4M297.4,74.7v4.4"/>
<path d="M311.3,73.5V101.9M309.1,73.5h4.4M309.1,101.9h4.4M308.3,93.9H314.3M308.3,91.7v4.4M314.3,91.7v4.4"/>
<path d="M299.2,91.6V107.6M297.0,91.6h4.4M297.0,107.6h4.4M294.7,99.6H307.2M294.7,97.4v4.4M307.2,97.4v4.4"/>
<path d="M316.0,82.4V113.6M313.8,82.4h4.4M313.8,113.6h4.4M313.0,105.6H319.0M313.0,103.4v4.4M319.0,103.4v4.4"/>
<path d="M281.4,105.1V117.1M279.2,105.1h4.4M279.2,117.1h4.4M277.4,111.1H285.4M277.4,108.9v4.4M285.4,108.9v4.4"/>
<path d="M299.2,108.8V124.8M297.0,108.8h4.4M297.0,124.8h4.4M270.2,116.8H313.2M270.2,114.6v4.4M313.2,114.6v4.4"/>
<path d="M311.5,105.2V125.2M309.3,105.2h4.4M309.3,125.2h4.4M307.5,115.2H315.5M307.5,113.0v4.4M315.5,113.0v4.4"/>
<path d="M293.5,118.5V143.0M291.3,118.5h4.4M291.3,143.0h4.4M289.5,134.2H297.5M289.5,132.0v4.4M297.5,132.0v4.4"/>
<path d="M300.4,128.9V144.9M298.2,128.9h4.4M298.2,144.9h4.4M283.6,136.9H302.4M283.6,134.7v4.4M302.4,134.7v4.4"/>
<path d="M304.4,130.8V153.0M302.2,130.8h4.4M302.2,153.0h4.4M300.4,144.2H308.4M300.4,142.0v4.4M308.4,142.0v4.4"/>
<path d="M302.5,141.0V157.0M300.3,141.0h4.4M300.3,157.0h4.4M292.2,149.0H313.2M292.2,146.8v4.4M313.2,146.8v4.4"/>
<path d="M318.9,132.1V146.1M316.7,132.1h4.4M316.7,146.1h4.4M310.7,138.1H329.9M310.7,135.9v4.4M329.9,135.9v4.4"/>
<path d="M319.4,140.7V161.7M317.2,140.7h4.4M317.2,161.7h4.4M315.4,149.3H323.4M315.4,147.1v4.4M323.4,147.1v4.4"/>
<path d="M308.0,152.0V168.0M305.8,152.0h4.4M305.8,168.0h4.4M304.0,160.0H312.0M304.0,157.8v4.4M312.0,157.8v4.4"/>
<path d="M257.8,161.4V181.4M255.6,161.4h4.4M255.6,181.4h4.4M243.6,171.3H271.6M243.6,169.1v4.4M271.6,169.1v4.4"/>
<path d="M305.5,168.0V182.1M303.3,168.0h4.4M303.3,182.1h4.4M298.7,174.8H312.6M298.7,172.6v4.4M312.6,172.6v4.4"/>
<path d="M297.0,174.4V185.4M294.8,174.4h4.4M294.8,185.4h4.4M289.6,180.0H304.4M289.6,177.8v4.4M304.4,177.8v4.4"/>
</g>
<line x1="257.4" y1="145.1" x2="385.6" y2="78.7" stroke="#ffa500" stroke-width="1.3"/>
<g fill="#28288e" stroke="#1c1c82" stroke-width="0.45"><polygon points="324.20,28.45 324.93,30.70 327.29,30.70 325.38,32.08 326.11,34.33 324.20,32.94 322.29,34.33 323.02,32.08 321.11,30.70 323.47,30.70"/><polygon points="291.10,54.05 291.83,56.30 294.19,56.30 292.28,57.68 293.01,59.93 291.10,58.54 289.19,59.93 289.92,57.68 288.01,56.30 290.37,56.30"/><polygon points="331.10,58.05 331.83,60.30 334.19,60.30 332.28,61.68 333.01,63.93 331.10,62.54 329.19,63.93 329.92,61.68 328.01,60.30 330.37,60.30"/><polygon points="338.90,64.75 339.63,67.00 341.99,67.00 340.08,68.38 340.81,70.63 338.90,69.24 336.99,70.63 337.72,68.38 335.81,67.00 338.17,67.00"/><polygon points="343.80,53.45 344.53,55.70 346.89,55.70 344.98,57.08 345.71,59.33 343.80,57.94 341.89,59.33 342.62,57.08 340.71,55.70 343.07,55.70"/><polygon points="348.30,58.55 349.03,60.80 351.39,60.80 349.48,62.18 350.21,64.43 348.30,63.04 346.39,64.43 347.12,62.18 345.21,60.80 347.57,60.80"/><polygon points="352.60,66.15 353.33,68.40 355.69,68.40 353.78,69.78 354.51,72.03 352.60,70.64 350.69,72.03 351.42,69.78 349.51,68.40 351.87,68.40"/><polygon points="357.10,64.25 357.83,66.50 360.19,66.50 358.28,67.88 359.01,70.13 357.10,68.74 355.19,70.13 355.92,67.88 354.01,66.50 356.37,66.50"/><polygon points="363.20,58.55 363.93,60.80 366.29,60.80 364.38,62.18 365.11,64.43 363.20,63.04 361.29,64.43 362.02,62.18 360.11,60.80 362.47,60.80"/><polygon points="369.60,51.05 370.33,53.30 372.69,53.30 370.78,54.68 371.51,56.93 369.60,55.54 367.69,56.93 368.42,54.68 366.51,53.30 368.87,53.30"/><polygon points="376.50,62.15 377.23,64.40 379.59,64.40 377.68,65.78 378.41,68.03 376.50,66.64 374.59,68.03 375.32,65.78 373.41,64.40 375.77,64.40"/><polygon points="378.30,64.95 379.03,67.20 381.39,67.20 379.48,68.58 380.21,70.83 378.30,69.44 376.39,70.83 377.12,68.58 375.21,67.20 377.57,67.20"/><polygon points="355.30,71.35 356.03,73.60 358.39,73.60 356.48,74.98 357.21,77.23 355.30,75.84 353.39,77.23 354.12,74.98 352.21,73.60 354.57,73.60"/><polygon points="355.90,73.95 356.63,76.20 358.99,76.20 357.08,77.58 357.81,79.83 355.90,78.44 353.99,79.83 354.72,77.58 352.81,76.20 355.17,76.20"/><polygon points="361.40,71.55 362.13,73.80 364.49,73.80 362.58,75.18 363.31,77.43 361.40,76.04 359.49,77.43 360.22,75.18 358.31,73.80 360.67,73.80"/><polygon points="370.10,72.35 370.83,74.60 373.19,74.60 371.28,75.98 372.01,78.23 370.10,76.84 368.19,78.23 368.92,75.98 367.01,74.60 369.37,74.60"/><polygon points="363.80,79.25 364.53,81.50 366.89,81.50 364.98,82.88 365.71,85.13 363.80,83.74 361.89,85.13 362.62,82.88 360.71,81.50 363.07,81.50"/><polygon points="366.80,77.35 367.53,79.60 369.89,79.60 367.98,80.98 368.71,83.23 366.80,81.84 364.89,83.23 365.62,80.98 363.71,79.60 366.07,79.60"/><polygon points="378.30,76.45 379.03,78.70 381.39,78.70 379.48,80.08 380.21,82.33 378.30,80.94 376.39,82.33 377.12,80.08 375.21,78.70 377.57,78.70"/><polygon points="330.50,84.85 331.23,87.10 333.59,87.10 331.68,88.48 332.41,90.73 330.50,89.34 328.59,90.73 329.32,88.48 327.41,87.10 329.77,87.10"/><polygon points="342.60,84.35 343.33,86.60 345.69,86.60 343.78,87.98 344.51,90.23 342.60,88.84 340.69,90.23 341.42,87.98 339.51,86.60 341.87,86.60"/><polygon points="348.70,85.65 349.43,87.90 351.79,87.90 349.88,89.28 350.61,91.53 348.70,90.14 346.79,91.53 347.52,89.28 345.61,87.90 347.97,87.90"/><polygon points="372.70,84.65 373.43,86.90 375.79,86.90 373.88,88.28 374.61,90.53 372.70,89.14 370.79,90.53 371.52,88.28 369.61,86.90 371.97,86.90"/><polygon points="385.60,84.45 386.33,86.70 388.69,86.70 386.78,88.08 387.51,90.33 385.60,88.94 383.69,90.33 384.42,88.08 382.51,86.70 384.87,86.70"/><polygon points="362.50,87.45 363.23,89.70 365.59,89.70 363.68,91.08 364.41,93.33 362.50,91.94 360.59,93.33 361.32,91.08 359.41,89.70 361.77,89.70"/><polygon points="354.70,89.25 355.43,91.50 357.79,91.50 355.88,92.88 356.61,95.13 354.70,93.74 352.79,95.13 353.52,92.88 351.61,91.50 353.97,91.50"/><polygon points="343.50,90.45 344.23,92.70 346.59,92.70 344.68,94.08 345.41,96.33 343.50,94.94 341.59,96.33 342.32,94.08 340.41,92.70 342.77,92.70"/><polygon points="348.00,91.95 348.73,94.20 351.09,94.20 349.18,95.58 349.91,97.83 348.00,96.44 346.09,97.83 346.82,95.58 344.91,94.20 347.27,94.20"/><polygon points="338.30,95.05 339.03,97.30 341.39,97.30 339.48,98.68 340.21,100.93 338.30,99.54 336.39,100.93 337.12,98.68 335.21,97.30 337.57,97.30"/><polygon points="341.60,93.65 342.33,95.90 344.69,95.90 342.78,97.28 343.51,99.53 341.60,98.14 339.69,99.53 340.42,97.28 338.51,95.90 340.87,95.90"/><polygon points="364.80,92.45 365.53,94.70 367.89,94.70 365.98,96.08 366.71,98.33 364.80,96.94 362.89,98.33 363.62,96.08 361.71,94.70 364.07,94.70"/><polygon points="366.50,95.65 367.23,97.90 369.59,97.90 367.68,99.28 368.41,101.53 366.50,100.14 364.59,101.53 365.32,99.28 363.41,97.90 365.77,97.90"/><polygon points="365.40,98.85 366.13,101.10 368.49,101.10 366.58,102.48 367.31,104.73 365.40,103.34 363.49,104.73 364.22,102.48 362.31,101.10 364.67,101.10"/><polygon points="370.80,100.85 371.53,103.10 373.89,103.10 371.98,104.48 372.71,106.73 370.80,105.34 368.89,106.73 369.62,104.48 367.71,103.10 370.07,103.10"/><polygon points="328.50,101.35 329.23,103.60 331.59,103.60 329.68,104.98 330.41,107.23 328.50,105.84 326.59,107.23 327.32,104.98 325.41,103.60 327.77,103.60"/><polygon points="343.60,101.05 344.33,103.30 346.69,103.30 344.78,104.68 345.51,106.93 343.60,105.54 341.69,106.93 342.42,104.68 340.51,103.30 342.87,103.30"/><polygon points="355.00,102.55 355.73,104.80 358.09,104.80 356.18,106.18 356.91,108.43 355.00,107.04 353.09,108.43 353.82,106.18 351.91,104.80 354.27,104.80"/><polygon points="323.50,90.85 324.23,93.10 326.59,93.10 324.68,94.48 325.41,96.73 323.50,95.34 321.59,96.73 322.32,94.48 320.41,93.10 322.77,93.10"/><polygon points="322.30,109.75 323.03,112.00 325.39,112.00 323.48,113.38 324.21,115.63 322.30,114.24 320.39,115.63 321.12,113.38 319.21,112.00 321.57,112.00"/><polygon points="324.40,108.35 325.13,110.60 327.49,110.60 325.58,111.98 326.31,114.23 324.40,112.84 322.49,114.23 323.22,111.98 321.31,110.60 323.67,110.60"/><polygon points="332.50,107.25 333.23,109.50 335.59,109.50 333.68,110.88 334.41,113.13 332.50,111.74 330.59,113.13 331.32,110.88 329.41,109.50 331.77,109.50"/><polygon points="335.00,109.35 335.73,111.60 338.09,111.60 336.18,112.98 336.91,115.23 335.00,113.84 333.09,115.23 333.82,112.98 331.91,111.60 334.27,111.60"/><polygon points="343.50,106.35 344.23,108.60 346.59,108.60 344.68,109.98 345.41,112.23 343.50,110.84 341.59,112.23 342.32,109.98 340.41,108.60 342.77,108.60"/><polygon points="347.30,107.65 348.03,109.90 350.39,109.90 348.48,111.28 349.21,113.53 347.30,112.14 345.39,113.53 346.12,111.28 344.21,109.90 346.57,109.90"/><polygon points="350.30,107.65 351.03,109.90 353.39,109.90 351.48,111.28 352.21,113.53 350.30,112.14 348.39,113.53 349.12,111.28 347.21,109.90 349.57,109.90"/><polygon points="354.10,108.95 354.83,111.20 357.19,111.20 355.28,112.58 356.01,114.83 354.10,113.44 352.19,114.83 352.92,112.58 351.01,111.20 353.37,111.20"/><polygon points="360.80,109.75 361.53,112.00 363.89,112.00 361.98,113.38 362.71,115.63 360.80,114.24 358.89,115.63 359.62,113.38 357.71,112.00 360.07,112.00"/><polygon points="340.90,113.15 341.63,115.40 343.99,115.40 342.08,116.78 342.81,119.03 340.90,117.64 338.99,119.03 339.72,116.78 337.81,115.40 340.17,115.40"/><polygon points="354.90,113.75 355.63,116.00 357.99,116.00 356.08,117.38 356.81,119.63 354.90,118.24 352.99,119.63 353.72,117.38 351.81,116.00 354.17,116.00"/><polygon points="346.90,118.65 347.63,120.90 349.99,120.90 348.08,122.28 348.81,124.53 346.90,123.14 344.99,124.53 345.72,122.28 343.81,120.90 346.17,120.90"/><polygon points="349.80,120.05 350.53,122.30 352.89,122.30 350.98,123.68 351.71,125.93 349.80,124.54 347.89,125.93 348.62,123.68 346.71,122.30 349.07,122.30"/><polygon points="353.60,123.35 354.33,125.60 356.69,125.60 354.78,126.98 355.51,129.23 353.60,127.84 351.69,129.23 352.42,126.98 350.51,125.60 352.87,125.60"/><polygon points="343.80,127.65 344.53,129.90 346.89,129.90 344.98,131.28 345.71,133.53 343.80,132.14 341.89,133.53 342.62,131.28 340.71,129.90 343.07,129.90"/><polygon points="328.90,137.95 329.63,140.20 331.99,140.20 330.08,141.58 330.81,143.83 328.90,142.44 326.99,143.83 327.72,141.58 325.81,140.20 328.17,140.20"/><polygon points="372.00,133.55 372.73,135.80 375.09,135.80 373.18,137.18 373.91,139.43 372.00,138.04 370.09,139.43 370.82,137.18 368.91,135.80 371.27,135.80"/><polygon points="353.60,182.95 354.33,185.20 356.69,185.20 354.78,186.58 355.51,188.83 353.60,187.44 351.69,188.83 352.42,186.58 350.51,185.20 352.87,185.20"/><polygon points="292.80,73.75 293.53,76.00 295.89,76.00 293.98,77.38 294.71,79.63 292.80,78.24 290.89,79.63 291.62,77.38 289.71,76.00 292.07,76.00"/><polygon points="311.30,90.75 312.03,93.00 314.39,93.00 312.48,94.38 313.21,96.63 311.30,95.24 309.39,96.63 310.12,94.38 308.21,93.00 310.57,93.00"/><polygon points="299.20,96.45 299.93,98.70 302.29,98.70 300.38,100.08 301.11,102.33 299.20,100.94 297.29,102.33 298.02,100.08 296.11,98.70 298.47,98.70"/><polygon points="316.00,102.45 316.73,104.70 319.09,104.70 317.18,106.08 317.91,108.33 316.00,106.94 314.09,108.33 314.82,106.08 312.91,104.70 315.27,104.70"/><polygon points="281.40,107.95 282.13,110.20 284.49,110.20 282.58,111.58 283.31,113.83 281.40,112.44 279.49,113.83 280.22,111.58 278.31,110.20 280.67,110.20"/><polygon points="299.20,113.65 299.93,115.90 302.29,115.90 300.38,117.28 301.11,119.53 299.20,118.14 297.29,119.53 298.02,117.28 296.11,115.90 298.47,115.90"/><polygon points="311.50,112.05 312.23,114.30 314.59,114.30 312.68,115.68 313.41,117.93 311.50,116.54 309.59,117.93 310.32,115.68 308.41,114.30 310.77,114.30"/><polygon points="293.50,131.05 294.23,133.30 296.59,133.30 294.68,134.68 295.41,136.93 293.50,135.54 291.59,136.93 292.32,134.68 290.41,133.30 292.77,133.30"/><polygon points="300.40,133.75 301.13,136.00 303.49,136.00 301.58,137.38 302.31,139.63 300.40,138.24 298.49,139.63 299.22,137.38 297.31,136.00 299.67,136.00"/><polygon points="304.40,141.05 305.13,143.30 307.49,143.30 305.58,144.68 306.31,146.93 304.40,145.54 302.49,146.93 303.22,144.68 301.31,143.30 303.67,143.30"/><polygon points="302.50,145.85 303.23,148.10 305.59,148.10 303.68,149.48 304.41,151.73 302.50,150.34 300.59,151.73 301.32,149.48 299.41,148.10 301.77,148.10"/><polygon points="318.90,134.95 319.63,137.20 321.99,137.20 320.08,138.58 320.81,140.83 318.90,139.44 316.99,140.83 317.72,138.58 315.81,137.20 318.17,137.20"/><polygon points="319.40,146.15 320.13,148.40 322.49,148.40 320.58,149.78 321.31,152.03 319.40,150.64 317.49,152.03 318.22,149.78 316.31,148.40 318.67,148.40"/><polygon points="308.00,156.85 308.73,159.10 311.09,159.10 309.18,160.48 309.91,162.73 308.00,161.34 306.09,162.73 306.82,160.48 304.91,159.10 307.27,159.10"/><polygon points="257.80,168.15 258.53,170.40 260.89,170.40 258.98,171.78 259.71,174.03 257.80,172.64 255.89,174.03 256.62,171.78 254.71,170.40 257.07,170.40"/><polygon points="305.50,171.65 306.23,173.90 308.59,173.90 306.68,175.28 307.41,177.53 305.50,176.14 303.59,177.53 304.32,175.28 302.41,173.90 304.77,173.90"/><polygon points="297.00,176.85 297.73,179.10 300.09,179.10 298.18,180.48 298.91,182.73 297.00,181.34 295.09,182.73 295.82,180.48 293.91,179.10 296.27,179.10"/></g>
<polygon points="454.1,100.7 473.1,89.7 497.3,88.2 512.8,83.1 534.8,74.3 572.3,59.7 572.3,87.5 541.5,105.1 517.2,118.4 492.9,144.8 475.3,160.3 455.4,168.2 454.0,168.2" fill="#feecd0"/>
<g stroke="#cfdbee" stroke-width="1" fill="none">
<path d="M515.6,42.4V70.3M513.4,42.4h4.4M513.4,70.3h4.4"/>
<path d="M532.1,53.6V69.7M529.9,53.6h4.4M529.9,69.7h4.4M523.3,61.8H541.7M523.3,59.6v4.4M541.7,59.6v4.4"/>
<path d="M553.0,48.5V73.4M550.8,48.5h4.4M550.8,73.4h4.4"/>
<path d="M572.4,51.5V76.9M570.2,51.5h4.4M570.2,76.9h4.4M568.4,68.9H579.1M568.4,66.7v4.4M579.1,66.7v4.4"/>
<path d="M551.2,65.1V85.1M549.0,65.1h4.4M549.0,85.1h4.4M547.2,75.1H555.2M547.2,72.9v4.4M555.2,72.9v4.4"/>
<path d="M555.8,64.6V84.6M553.6,64.6h4.4M553.6,84.6h4.4M551.8,74.6H559.8M551.8,72.4v4.4M559.8,72.4v4.4"/>
<path d="M561.9,63.0V83.5M559.7,63.0h4.4M559.7,83.5h4.4"/>
<path d="M565.1,70.3V90.3M562.9,70.3h4.4M562.9,90.3h4.4M561.1,80.3H569.1M561.1,78.1v4.4M569.1,78.1v4.4"/>
<path d="M543.3,62.2V90.7M541.1,62.2h4.4M541.1,90.7h4.4M538.3,82.7H548.3M538.3,80.5v4.4M548.3,80.5v4.4"/>
<path d="M557.9,77.0V97.0M555.7,77.0h4.4M555.7,97.0h4.4M553.9,87.0H561.9M553.9,84.8v4.4M561.9,84.8v4.4"/>
<path d="M516.4,87.0V104.3M514.2,87.0h4.4M514.2,104.3h4.4M513.4,96.3H519.4M513.4,94.1v4.4M519.4,94.1v4.4"/>
<path d="M523.9,80.0V101.6M521.7,80.0h4.4M521.7,101.6h4.4M520.9,93.6H526.9M520.9,91.4v4.4M526.9,91.4v4.4"/>
<path d="M527.6,92.7V112.7M525.4,92.7h4.4M525.4,112.7h4.4M523.6,102.7H531.6M523.6,100.5v4.4M531.6,100.5v4.4"/>
<path d="M535.2,89.2V109.2M533.0,89.2h4.4M533.0,109.2h4.4M531.2,99.2H539.2M531.2,97.0v4.4M539.2,97.0v4.4"/>
<path d="M516.1,102.9V125.4M513.9,102.9h4.4M513.9,125.4h4.4M513.1,110.9H519.1M513.1,108.7v4.4M519.1,108.7v4.4"/>
<path d="M529.4,104.1V127.6M527.2,104.1h4.4M527.2,127.6h4.4M526.4,112.1H532.4M526.4,109.9v4.4M532.4,109.9v4.4"/>
<path d="M538.5,105.5V128.5M536.3,105.5h4.4M536.3,128.5h4.4M534.5,117.0H542.5M534.5,114.8v4.4M542.5,114.8v4.4"/>
<path d="M510.3,106.2V126.2M508.1,106.2h4.4M508.1,126.2h4.4M506.3,116.2H514.3M506.3,114.0v4.4M514.3,114.0v4.4"/>
<path d="M567.6,96.8V115.1M565.4,96.8h4.4M565.4,115.1h4.4"/>
<path d="M454.6,93.4V106.4M452.4,93.4h4.4M452.4,106.4h4.4M448.1,100.3H461.5M448.1,98.1v4.4M461.5,98.1v4.4"/>
<path d="M504.2,84.6V104.6M502.0,84.6h4.4M502.0,104.6h4.4M500.2,94.6H508.2M500.2,92.4v4.4M508.2,92.4v4.4"/>
<path d="M502.3,95.5V115.5M500.1,95.5h4.4M500.1,115.5h4.4M498.3,105.5H506.3M498.3,103.3v4.4M506.3,103.3v4.4"/>
<path d="M501.5,103.8V127.6M499.3,103.8h4.4M499.3,127.6h4.4M498.5,111.8H504.5M498.5,109.6v4.4M504.5,109.6v4.4"/>
<path d="M488.1,107.4V123.2M485.9,107.4h4.4M485.9,123.2h4.4M480.1,115.2H495.9M480.1,113.0v4.4M495.9,113.0v4.4"/>
<path d="M469.6,101.5V130.9M467.4,101.5h4.4M467.4,130.9h4.4M435.4,116.9H476.6M435.4,114.7v4.4M476.6,114.7v4.4"/>
<path d="M494.8,111.7V131.7M492.6,111.7h4.4M492.6,131.7h4.4M490.8,121.7H498.8M490.8,119.5v4.4M498.8,119.5v4.4"/>
<path d="M453.8,120.0V149.1M451.6,120.0h4.4M451.6,149.1h4.4"/>
<path d="M492.4,126.4V150.9M490.2,126.4h4.4M490.2,150.9h4.4M482.4,138.4H503.0M482.4,136.2v4.4M503.0,136.2v4.4"/>
<path d="M483.7,186.6V186.6M481.5,186.6h4.4M481.5,186.6h4.4"/>
</g>
<line x1="453.8" y1="134.5" x2="572.8" y2="74.2" stroke="#ffa500" stroke-width="1.3"/>
<g fill="#28288e" stroke="#1c1c82" stroke-width="0.45"><polygon points="515.60,53.55 516.33,55.80 518.69,55.80 516.78,57.18 517.51,59.43 515.60,58.04 513.69,59.43 514.42,57.18 512.51,55.80 514.87,55.80"/><polygon points="532.10,58.65 532.83,60.90 535.19,60.90 533.28,62.28 534.01,64.53 532.10,63.14 530.19,64.53 530.92,62.28 529.01,60.90 531.37,60.90"/><polygon points="553.00,62.25 553.73,64.50 556.09,64.50 554.18,65.88 554.91,68.13 553.00,66.74 551.09,68.13 551.82,65.88 549.91,64.50 552.27,64.50"/><polygon points="572.40,65.75 573.13,68.00 575.49,68.00 573.58,69.38 574.31,71.63 572.40,70.24 570.49,71.63 571.22,69.38 569.31,68.00 571.67,68.00"/><polygon points="551.20,71.95 551.93,74.20 554.29,74.20 552.38,75.58 553.11,77.83 551.20,76.44 549.29,77.83 550.02,75.58 548.11,74.20 550.47,74.20"/><polygon points="555.80,71.45 556.53,73.70 558.89,73.70 556.98,75.08 557.71,77.33 555.80,75.94 553.89,77.33 554.62,75.08 552.71,73.70 555.07,73.70"/><polygon points="561.90,72.35 562.63,74.60 564.99,74.60 563.08,75.98 563.81,78.23 561.90,76.84 559.99,78.23 560.72,75.98 558.81,74.60 561.17,74.60"/><polygon points="565.10,77.15 565.83,79.40 568.19,79.40 566.28,80.78 567.01,83.03 565.10,81.64 563.19,83.03 563.92,80.78 562.01,79.40 564.37,79.40"/><polygon points="543.30,79.55 544.03,81.80 546.39,81.80 544.48,83.18 545.21,85.43 543.30,84.04 541.39,85.43 542.12,83.18 540.21,81.80 542.57,81.80"/><polygon points="557.90,83.85 558.63,86.10 560.99,86.10 559.08,87.48 559.81,89.73 557.90,88.34 555.99,89.73 556.72,87.48 554.81,86.10 557.17,86.10"/><polygon points="516.40,93.15 517.13,95.40 519.49,95.40 517.58,96.78 518.31,99.03 516.40,97.64 514.49,99.03 515.22,96.78 513.31,95.40 515.67,95.40"/><polygon points="523.90,90.45 524.63,92.70 526.99,92.70 525.08,94.08 525.81,96.33 523.90,94.94 521.99,96.33 522.72,94.08 520.81,92.70 523.17,92.70"/><polygon points="527.60,99.55 528.33,101.80 530.69,101.80 528.78,103.18 529.51,105.43 527.60,104.04 525.69,105.43 526.42,103.18 524.51,101.80 526.87,101.80"/><polygon points="535.20,96.05 535.93,98.30 538.29,98.30 536.38,99.68 537.11,101.93 535.20,100.54 533.29,101.93 534.02,99.68 532.11,98.30 534.47,98.30"/><polygon points="516.10,107.75 516.83,110.00 519.19,110.00 517.28,111.38 518.01,113.63 516.10,112.24 514.19,113.63 514.92,111.38 513.01,110.00 515.37,110.00"/><polygon points="529.40,108.95 530.13,111.20 532.49,111.20 530.58,112.58 531.31,114.83 529.40,113.44 527.49,114.83 528.22,112.58 526.31,111.20 528.67,111.20"/><polygon points="538.50,113.85 539.23,116.10 541.59,116.10 539.68,117.48 540.41,119.73 538.50,118.34 536.59,119.73 537.32,117.48 535.41,116.10 537.77,116.10"/><polygon points="510.30,113.05 511.03,115.30 513.39,115.30 511.48,116.68 512.21,118.93 510.30,117.54 508.39,118.93 509.12,116.68 507.21,115.30 509.57,115.30"/><polygon points="567.60,102.65 568.33,104.90 570.69,104.90 568.78,106.28 569.51,108.53 567.60,107.14 565.69,108.53 566.42,106.28 564.51,104.90 566.87,104.90"/><polygon points="454.60,97.15 455.33,99.40 457.69,99.40 455.78,100.78 456.51,103.03 454.60,101.64 452.69,103.03 453.42,100.78 451.51,99.40 453.87,99.40"/><polygon points="504.20,91.45 504.93,93.70 507.29,93.70 505.38,95.08 506.11,97.33 504.20,95.94 502.29,97.33 503.02,95.08 501.11,93.70 503.47,93.70"/><polygon points="502.30,102.35 503.03,104.60 505.39,104.60 503.48,105.98 504.21,108.23 502.30,106.84 500.39,108.23 501.12,105.98 499.21,104.60 501.57,104.60"/><polygon points="501.50,108.65 502.23,110.90 504.59,110.90 502.68,112.28 503.41,114.53 501.50,113.14 499.59,114.53 500.32,112.28 498.41,110.90 500.77,110.90"/><polygon points="488.10,112.05 488.83,114.30 491.19,114.30 489.28,115.68 490.01,117.93 488.10,116.54 486.19,117.93 486.92,115.68 485.01,114.30 487.37,114.30"/><polygon points="469.60,113.75 470.33,116.00 472.69,116.00 470.78,117.38 471.51,119.63 469.60,118.24 467.69,119.63 468.42,117.38 466.51,116.00 468.87,116.00"/><polygon points="494.80,118.55 495.53,120.80 497.89,120.80 495.98,122.18 496.71,124.43 494.80,123.04 492.89,124.43 493.62,122.18 491.71,120.80 494.07,120.80"/><polygon points="453.80,131.35 454.53,133.60 456.89,133.60 454.98,134.98 455.71,137.23 453.80,135.84 451.89,137.23 452.62,134.98 450.71,133.60 453.07,133.60"/><polygon points="492.40,135.25 493.13,137.50 495.49,137.50 493.58,138.88 494.31,141.13 492.40,139.74 490.49,141.13 491.22,138.88 489.31,137.50 491.67,137.50"/><polygon points="483.70,183.45 484.43,185.70 486.79,185.70 484.88,187.08 485.61,189.33 483.70,187.94 481.79,189.33 482.52,187.08 480.61,185.70 482.97,185.70"/></g>
<polygon points="64.60,204.60 64.60,206.51 78.93,206.51 78.93,204.60 93.26,204.60 93.26,206.51 107.59,206.51 107.59,223.68 121.92,223.68 121.92,223.68 136.25,223.68 136.25,231.31 150.58,231.31 150.58,244.67 164.91,244.67 164.91,221.77 179.24,221.77 179.24,231.31 193.57,231.31 193.57,204.60" fill="url(#hatch)"/>
<polyline points="64.60,204.60 64.60,206.51 78.93,206.51 78.93,204.60 93.26,204.60 93.26,206.51 107.59,206.51 107.59,223.68 121.92,223.68 121.92,223.68 136.25,223.68 136.25,231.31 150.58,231.31 150.58,244.67 164.91,244.67 164.91,221.77 179.24,221.77 179.24,231.31 193.57,231.31 193.57,204.60" fill="none" stroke="#13137f" stroke-width="2" stroke-linejoin="miter"/>
<polygon points="257.10,204.60 257.10,206.19 271.38,206.19 271.38,206.19 285.66,206.19 285.66,214.14 299.94,214.14 299.94,215.73 314.22,215.73 314.22,218.91 328.50,218.91 328.50,222.09 342.78,222.09 342.78,244.35 357.06,244.35 357.06,228.45 371.34,228.45 371.34,214.14 385.62,214.14 385.62,204.60" fill="url(#hatch)"/>
<polyline points="257.10,204.60 257.10,206.19 271.38,206.19 271.38,206.19 285.66,206.19 285.66,214.14 299.94,214.14 299.94,215.73 314.22,215.73 314.22,218.91 328.50,218.91 328.50,222.09 342.78,222.09 342.78,244.35 357.06,244.35 357.06,228.45 371.34,228.45 371.34,214.14 385.62,214.14 385.62,204.60" fill="none" stroke="#13137f" stroke-width="2" stroke-linejoin="miter"/>
<polygon points="453.60,204.60 453.60,218.91 483.38,218.91 483.38,242.76 513.16,242.76 513.16,247.53 542.94,247.53 542.94,247.53 572.72,247.53 572.72,204.60" fill="url(#hatch)"/>
<polyline points="453.60,204.60 453.60,218.91 483.38,218.91 483.38,242.76 513.16,242.76 513.16,247.53 542.94,247.53 542.94,247.53 572.72,247.53 572.72,204.60" fill="none" stroke="#13137f" stroke-width="2" stroke-linejoin="miter"/>
<polygon points="628.50,31.60 631.94,31.60 631.94,47.06 649.14,47.06 649.14,62.52 662.90,62.52 662.90,77.98 669.78,77.98 669.78,93.44 693.86,93.44 693.86,108.90 686.98,108.90 686.98,124.36 649.14,124.36 649.14,139.82 642.26,139.82 642.26,155.28 631.94,155.28 631.94,170.74 642.26,170.74 642.26,186.20 628.50,186.20" fill="url(#hatch)"/>
<polyline points="628.50,31.60 631.94,31.60 631.94,47.06 649.14,47.06 649.14,62.52 662.90,62.52 662.90,77.98 669.78,77.98 669.78,93.44 693.86,93.44 693.86,108.90 686.98,108.90 686.98,124.36 649.14,124.36 649.14,139.82 642.26,139.82 642.26,155.28 631.94,155.28 631.94,170.74 642.26,170.74 642.26,186.20 628.50,186.20" fill="none" stroke="#13137f" stroke-width="2" stroke-linejoin="miter"/>
<line x1="72.37" y1="4.5" x2="72.37" y2="8.0" stroke="#6e6e6e" stroke-width="1.15"/><line x1="72.37" y1="195.0" x2="72.37" y2="191.5" stroke="#6e6e6e" stroke-width="1.15"/><line x1="101.23" y1="4.5" x2="101.23" y2="8.0" stroke="#6e6e6e" stroke-width="1.15"/><line x1="101.23" y1="195.0" x2="101.23" y2="191.5" stroke="#6e6e6e" stroke-width="1.15"/><line x1="130.10" y1="4.5" x2="130.10" y2="8.0" stroke="#6e6e6e" stroke-width="1.15"/><line x1="130.10" y1="195.0" x2="130.10" y2="191.5" stroke="#6e6e6e" stroke-width="1.15"/><line x1="158.97" y1="4.5" x2="158.97" y2="8.0" stroke="#6e6e6e" stroke-width="1.15"/><line x1="158.97" y1="195.0" x2="158.97" y2="191.5" stroke="#6e6e6e" stroke-width="1.15"/><line x1="187.83" y1="4.5" x2="187.83" y2="8.0" stroke="#6e6e6e" stroke-width="1.15"/><line x1="187.83" y1="195.0" x2="187.83" y2="191.5" stroke="#6e6e6e" stroke-width="1.15"/>
<line x1="43.5" y1="163.25" x2="47.0" y2="163.25" stroke="#6e6e6e" stroke-width="1.15"/><line x1="216.7" y1="163.25" x2="213.2" y2="163.25" stroke="#6e6e6e" stroke-width="1.15"/><line x1="43.5" y1="131.50" x2="47.0" y2="131.50" stroke="#6e6e6e" stroke-width="1.15"/><line x1="216.7" y1="131.50" x2="213.2" y2="131.50" stroke="#6e6e6e" stroke-width="1.15"/><line x1="43.5" y1="99.75" x2="47.0" y2="99.75" stroke="#6e6e6e" stroke-width="1.15"/><line x1="216.7" y1="99.75" x2="213.2" y2="99.75" stroke="#6e6e6e" stroke-width="1.15"/><line x1="43.5" y1="68.00" x2="47.0" y2="68.00" stroke="#6e6e6e" stroke-width="1.15"/><line x1="216.7" y1="68.00" x2="213.2" y2="68.00" stroke="#6e6e6e" stroke-width="1.15"/><line x1="43.5" y1="36.25" x2="47.0" y2="36.25" stroke="#6e6e6e" stroke-width="1.15"/><line x1="216.7" y1="36.25" x2="213.2" y2="36.25" stroke="#6e6e6e" stroke-width="1.15"/>
<rect x="43.5" y="4.5" width="173.20" height="190.50" fill="none" stroke="#6a6a6a" stroke-width="1.1"/>
<line x1="72.37" y1="204.6" x2="72.37" y2="208.1" stroke="#6e6e6e" stroke-width="1.15"/><line x1="72.37" y1="252.3" x2="72.37" y2="248.8" stroke="#6e6e6e" stroke-width="1.15"/><line x1="101.23" y1="204.6" x2="101.23" y2="208.1" stroke="#6e6e6e" stroke-width="1.15"/><line x1="101.23" y1="252.3" x2="101.23" y2="248.8" stroke="#6e6e6e" stroke-width="1.15"/><line x1="130.10" y1="204.6" x2="130.10" y2="208.1" stroke="#6e6e6e" stroke-width="1.15"/><line x1="130.10" y1="252.3" x2="130.10" y2="248.8" stroke="#6e6e6e" stroke-width="1.15"/><line x1="158.97" y1="204.6" x2="158.97" y2="208.1" stroke="#6e6e6e" stroke-width="1.15"/><line x1="158.97" y1="252.3" x2="158.97" y2="248.8" stroke="#6e6e6e" stroke-width="1.15"/><line x1="187.83" y1="204.6" x2="187.83" y2="208.1" stroke="#6e6e6e" stroke-width="1.15"/><line x1="187.83" y1="252.3" x2="187.83" y2="248.8" stroke="#6e6e6e" stroke-width="1.15"/>
<line x1="43.5" y1="214.14" x2="47.0" y2="214.14" stroke="#6e6e6e" stroke-width="1.15"/><line x1="216.1" y1="214.14" x2="212.6" y2="214.14" stroke="#6e6e6e" stroke-width="1.15"/><line x1="43.5" y1="223.68" x2="47.0" y2="223.68" stroke="#6e6e6e" stroke-width="1.15"/><line x1="216.1" y1="223.68" x2="212.6" y2="223.68" stroke="#6e6e6e" stroke-width="1.15"/><line x1="43.5" y1="233.22" x2="47.0" y2="233.22" stroke="#6e6e6e" stroke-width="1.15"/><line x1="216.1" y1="233.22" x2="212.6" y2="233.22" stroke="#6e6e6e" stroke-width="1.15"/><line x1="43.5" y1="242.76" x2="47.0" y2="242.76" stroke="#6e6e6e" stroke-width="1.15"/><line x1="216.1" y1="242.76" x2="212.6" y2="242.76" stroke="#6e6e6e" stroke-width="1.15"/>
<rect x="43.5" y="204.6" width="172.60" height="47.70" fill="none" stroke="#6a6a6a" stroke-width="1.1"/>
<line x1="273.08" y1="4.5" x2="273.08" y2="8.0" stroke="#6e6e6e" stroke-width="1.15"/><line x1="273.08" y1="195.0" x2="273.08" y2="191.5" stroke="#6e6e6e" stroke-width="1.15"/><line x1="307.76" y1="4.5" x2="307.76" y2="8.0" stroke="#6e6e6e" stroke-width="1.15"/><line x1="307.76" y1="195.0" x2="307.76" y2="191.5" stroke="#6e6e6e" stroke-width="1.15"/><line x1="342.44" y1="4.5" x2="342.44" y2="8.0" stroke="#6e6e6e" stroke-width="1.15"/><line x1="342.44" y1="195.0" x2="342.44" y2="191.5" stroke="#6e6e6e" stroke-width="1.15"/><line x1="377.12" y1="4.5" x2="377.12" y2="8.0" stroke="#6e6e6e" stroke-width="1.15"/><line x1="377.12" y1="195.0" x2="377.12" y2="191.5" stroke="#6e6e6e" stroke-width="1.15"/>
<line x1="238.4" y1="163.25" x2="241.9" y2="163.25" stroke="#6e6e6e" stroke-width="1.15"/><line x1="411.8" y1="163.25" x2="408.3" y2="163.25" stroke="#6e6e6e" stroke-width="1.15"/><line x1="238.4" y1="131.50" x2="241.9" y2="131.50" stroke="#6e6e6e" stroke-width="1.15"/><line x1="411.8" y1="131.50" x2="408.3" y2="131.50" stroke="#6e6e6e" stroke-width="1.15"/><line x1="238.4" y1="99.75" x2="241.9" y2="99.75" stroke="#6e6e6e" stroke-width="1.15"/><line x1="411.8" y1="99.75" x2="408.3" y2="99.75" stroke="#6e6e6e" stroke-width="1.15"/><line x1="238.4" y1="68.00" x2="241.9" y2="68.00" stroke="#6e6e6e" stroke-width="1.15"/><line x1="411.8" y1="68.00" x2="408.3" y2="68.00" stroke="#6e6e6e" stroke-width="1.15"/><line x1="238.4" y1="36.25" x2="241.9" y2="36.25" stroke="#6e6e6e" stroke-width="1.15"/><line x1="411.8" y1="36.25" x2="408.3" y2="36.25" stroke="#6e6e6e" stroke-width="1.15"/>
<rect x="238.4" y="4.5" width="173.40" height="190.50" fill="none" stroke="#6a6a6a" stroke-width="1.1"/>
<line x1="273.08" y1="204.6" x2="273.08" y2="208.1" stroke="#6e6e6e" stroke-width="1.15"/><line x1="273.08" y1="252.3" x2="273.08" y2="248.8" stroke="#6e6e6e" stroke-width="1.15"/><line x1="307.76" y1="204.6" x2="307.76" y2="208.1" stroke="#6e6e6e" stroke-width="1.15"/><line x1="307.76" y1="252.3" x2="307.76" y2="248.8" stroke="#6e6e6e" stroke-width="1.15"/><line x1="342.44" y1="204.6" x2="342.44" y2="208.1" stroke="#6e6e6e" stroke-width="1.15"/><line x1="342.44" y1="252.3" x2="342.44" y2="248.8" stroke="#6e6e6e" stroke-width="1.15"/><line x1="377.12" y1="204.6" x2="377.12" y2="208.1" stroke="#6e6e6e" stroke-width="1.15"/><line x1="377.12" y1="252.3" x2="377.12" y2="248.8" stroke="#6e6e6e" stroke-width="1.15"/>
<line x1="238.4" y1="212.55" x2="241.9" y2="212.55" stroke="#6e6e6e" stroke-width="1.15"/><line x1="411.6" y1="212.55" x2="408.1" y2="212.55" stroke="#6e6e6e" stroke-width="1.15"/><line x1="238.4" y1="220.50" x2="241.9" y2="220.50" stroke="#6e6e6e" stroke-width="1.15"/><line x1="411.6" y1="220.50" x2="408.1" y2="220.50" stroke="#6e6e6e" stroke-width="1.15"/><line x1="238.4" y1="228.45" x2="241.9" y2="228.45" stroke="#6e6e6e" stroke-width="1.15"/><line x1="411.6" y1="228.45" x2="408.1" y2="228.45" stroke="#6e6e6e" stroke-width="1.15"/><line x1="238.4" y1="236.40" x2="241.9" y2="236.40" stroke="#6e6e6e" stroke-width="1.15"/><line x1="411.6" y1="236.40" x2="408.1" y2="236.40" stroke="#6e6e6e" stroke-width="1.15"/><line x1="238.4" y1="244.35" x2="241.9" y2="244.35" stroke="#6e6e6e" stroke-width="1.15"/><line x1="411.6" y1="244.35" x2="408.1" y2="244.35" stroke="#6e6e6e" stroke-width="1.15"/>
<rect x="238.4" y="204.6" width="173.20" height="47.70" fill="none" stroke="#6a6a6a" stroke-width="1.1"/>
<line x1="476.93" y1="4.5" x2="476.93" y2="8.0" stroke="#6e6e6e" stroke-width="1.15"/><line x1="476.93" y1="195.0" x2="476.93" y2="191.5" stroke="#6e6e6e" stroke-width="1.15"/><line x1="520.25" y1="4.5" x2="520.25" y2="8.0" stroke="#6e6e6e" stroke-width="1.15"/><line x1="520.25" y1="195.0" x2="520.25" y2="191.5" stroke="#6e6e6e" stroke-width="1.15"/><line x1="563.58" y1="4.5" x2="563.58" y2="8.0" stroke="#6e6e6e" stroke-width="1.15"/><line x1="563.58" y1="195.0" x2="563.58" y2="191.5" stroke="#6e6e6e" stroke-width="1.15"/>
<line x1="433.6" y1="163.25" x2="437.1" y2="163.25" stroke="#6e6e6e" stroke-width="1.15"/><line x1="606.9" y1="163.25" x2="603.4" y2="163.25" stroke="#6e6e6e" stroke-width="1.15"/><line x1="433.6" y1="131.50" x2="437.1" y2="131.50" stroke="#6e6e6e" stroke-width="1.15"/><line x1="606.9" y1="131.50" x2="603.4" y2="131.50" stroke="#6e6e6e" stroke-width="1.15"/><line x1="433.6" y1="99.75" x2="437.1" y2="99.75" stroke="#6e6e6e" stroke-width="1.15"/><line x1="606.9" y1="99.75" x2="603.4" y2="99.75" stroke="#6e6e6e" stroke-width="1.15"/><line x1="433.6" y1="68.00" x2="437.1" y2="68.00" stroke="#6e6e6e" stroke-width="1.15"/><line x1="606.9" y1="68.00" x2="603.4" y2="68.00" stroke="#6e6e6e" stroke-width="1.15"/><line x1="433.6" y1="36.25" x2="437.1" y2="36.25" stroke="#6e6e6e" stroke-width="1.15"/><line x1="606.9" y1="36.25" x2="603.4" y2="36.25" stroke="#6e6e6e" stroke-width="1.15"/>
<rect x="433.6" y="4.5" width="173.30" height="190.50" fill="none" stroke="#6a6a6a" stroke-width="1.1"/>
<line x1="476.93" y1="204.6" x2="476.93" y2="208.1" stroke="#6e6e6e" stroke-width="1.15"/><line x1="476.93" y1="252.3" x2="476.93" y2="248.8" stroke="#6e6e6e" stroke-width="1.15"/><line x1="520.25" y1="204.6" x2="520.25" y2="208.1" stroke="#6e6e6e" stroke-width="1.15"/><line x1="520.25" y1="252.3" x2="520.25" y2="248.8" stroke="#6e6e6e" stroke-width="1.15"/><line x1="563.58" y1="204.6" x2="563.58" y2="208.1" stroke="#6e6e6e" stroke-width="1.15"/><line x1="563.58" y1="252.3" x2="563.58" y2="248.8" stroke="#6e6e6e" stroke-width="1.15"/>
<line x1="433.6" y1="214.14" x2="437.1" y2="214.14" stroke="#6e6e6e" stroke-width="1.15"/><line x1="606.9" y1="214.14" x2="603.4" y2="214.14" stroke="#6e6e6e" stroke-width="1.15"/><line x1="433.6" y1="223.68" x2="437.1" y2="223.68" stroke="#6e6e6e" stroke-width="1.15"/><line x1="606.9" y1="223.68" x2="603.4" y2="223.68" stroke="#6e6e6e" stroke-width="1.15"/><line x1="433.6" y1="233.22" x2="437.1" y2="233.22" stroke="#6e6e6e" stroke-width="1.15"/><line x1="606.9" y1="233.22" x2="603.4" y2="233.22" stroke="#6e6e6e" stroke-width="1.15"/><line x1="433.6" y1="242.76" x2="437.1" y2="242.76" stroke="#6e6e6e" stroke-width="1.15"/><line x1="606.9" y1="242.76" x2="603.4" y2="242.76" stroke="#6e6e6e" stroke-width="1.15"/>
<rect x="433.6" y="204.6" width="173.30" height="47.70" fill="none" stroke="#6a6a6a" stroke-width="1.1"/>
<rect x="628.5" y="4.5" width="86.00" height="190.50" fill="none" stroke="#6a6a6a" stroke-width="1.1"/>
<line x1="628.5" y1="163.25" x2="632.0" y2="163.25" stroke="#6e6e6e" stroke-width="1.15"/><line x1="714.5" y1="163.25" x2="711.0" y2="163.25" stroke="#6e6e6e" stroke-width="1.15"/><line x1="628.5" y1="131.50" x2="632.0" y2="131.50" stroke="#6e6e6e" stroke-width="1.15"/><line x1="714.5" y1="131.50" x2="711.0" y2="131.50" stroke="#6e6e6e" stroke-width="1.15"/><line x1="628.5" y1="99.75" x2="632.0" y2="99.75" stroke="#6e6e6e" stroke-width="1.15"/><line x1="714.5" y1="99.75" x2="711.0" y2="99.75" stroke="#6e6e6e" stroke-width="1.15"/><line x1="628.5" y1="68.00" x2="632.0" y2="68.00" stroke="#6e6e6e" stroke-width="1.15"/><line x1="714.5" y1="68.00" x2="711.0" y2="68.00" stroke="#6e6e6e" stroke-width="1.15"/><line x1="628.5" y1="36.25" x2="632.0" y2="36.25" stroke="#6e6e6e" stroke-width="1.15"/><line x1="714.5" y1="36.25" x2="711.0" y2="36.25" stroke="#6e6e6e" stroke-width="1.15"/>
<line x1="645.70" y1="4.5" x2="645.70" y2="8.0" stroke="#6e6e6e" stroke-width="1.15"/><line x1="645.70" y1="195.0" x2="645.70" y2="191.5" stroke="#6e6e6e" stroke-width="1.15"/>
<line x1="662.90" y1="4.5" x2="662.90" y2="8.0" stroke="#6e6e6e" stroke-width="1.15"/><line x1="662.90" y1="195.0" x2="662.90" y2="191.5" stroke="#6e6e6e" stroke-width="1.15"/>
<line x1="680.10" y1="4.5" x2="680.10" y2="8.0" stroke="#6e6e6e" stroke-width="1.15"/><line x1="680.10" y1="195.0" x2="680.10" y2="191.5" stroke="#6e6e6e" stroke-width="1.15"/>
<line x1="697.30" y1="4.5" x2="697.30" y2="8.0" stroke="#6e6e6e" stroke-width="1.15"/><line x1="697.30" y1="195.0" x2="697.30" y2="191.5" stroke="#6e6e6e" stroke-width="1.15"/>
<g style="filter:grayscale(1)" fill="#111" stroke="#111" stroke-width="0.2"><text x="39.6" y="198.4" font-size="10.3" text-anchor="end" textLength="18.6" lengthAdjust="spacingAndGlyphs">1000</text><text x="39.6" y="166.65" font-size="10.3" text-anchor="end" textLength="18.6" lengthAdjust="spacingAndGlyphs">2000</text><text x="39.6" y="134.9" font-size="10.3" text-anchor="end" textLength="18.6" lengthAdjust="spacingAndGlyphs">3000</text><text x="39.6" y="103.15" font-size="10.3" text-anchor="end" textLength="18.6" lengthAdjust="spacingAndGlyphs">4000</text><text x="39.6" y="71.4" font-size="10.3" text-anchor="end" textLength="18.6" lengthAdjust="spacingAndGlyphs">5000</text><text x="39.6" y="39.65" font-size="10.3" text-anchor="end" textLength="18.6" lengthAdjust="spacingAndGlyphs">6000</text><text x="39.6" y="7.9" font-size="10.3" text-anchor="end" textLength="18.6" lengthAdjust="spacingAndGlyphs">7000</text><text x="12.2" y="99.7" font-size="16" text-anchor="middle" textLength="157" lengthAdjust="spacingAndGlyphs" transform="rotate(-90 12.2 99.7)">Fe II 5169 velocity [km/s]</text><text x="40.7" y="207.0" font-size="7" text-anchor="end" >0</text><text x="40.7" y="216.54" font-size="7" text-anchor="end" >5</text><text x="40.7" y="226.08" font-size="7" text-anchor="end" >10</text><text x="40.7" y="235.62" font-size="7" text-anchor="end" >15</text><text x="40.7" y="245.16000000000003" font-size="7" text-anchor="end" >20</text><text x="40.7" y="254.70000000000002" font-size="7" text-anchor="end" >25</text><text x="235.1" y="207.0" font-size="7.3" text-anchor="end" >0</text><text x="235.1" y="214.95000000000002" font-size="7.3" text-anchor="end" >5</text><text x="235.1" y="222.9" font-size="7.3" text-anchor="end" >10</text><text x="235.1" y="230.85" font-size="7.3" text-anchor="end" >15</text><text x="235.1" y="238.8" font-size="7.3" text-anchor="end" >20</text><text x="235.1" y="246.75000000000003" font-size="7.3" text-anchor="end" >25</text><text x="235.1" y="254.70000000000002" font-size="7.3" text-anchor="end" >30</text><text x="430.1" y="207.0" font-size="7.3" text-anchor="end" >0</text><text x="430.1" y="216.54" font-size="7.3" text-anchor="end" >2</text><text x="430.1" y="226.08" font-size="7.3" text-anchor="end" >4</text><text x="430.1" y="235.62" font-size="7.3" text-anchor="end" >6</text><text x="430.1" y="245.16000000000003" font-size="7.3" text-anchor="end" >8</text><text x="430.1" y="254.70000000000002" font-size="7.3" text-anchor="end" >10</text><text x="628.5" y="203.6" font-size="7.6" text-anchor="middle" >0</text><text x="645.7" y="203.6" font-size="7.6" text-anchor="middle" >5</text><text x="662.9" y="203.6" font-size="7.6" text-anchor="middle" >10</text><text x="680.1" y="203.6" font-size="7.6" text-anchor="middle" >15</text><text x="697.3" y="203.6" font-size="7.6" text-anchor="middle" >20</text><text x="714.5" y="203.6" font-size="7.6" text-anchor="middle" >25</text><text x="671.5" y="215.0" font-size="9" text-anchor="middle" >Frequency</text><text x="27.2" y="228.2" font-size="9" text-anchor="middle" transform="rotate(-90 27.2 228.2)">Frequency</text><text x="44.1" y="263" font-size="10.4" text-anchor="middle" textLength="17" lengthAdjust="spacingAndGlyphs">−13</text><text x="72.96666666666665" y="263" font-size="10.4" text-anchor="middle" textLength="17" lengthAdjust="spacingAndGlyphs">−14</text><text x="101.83333333333331" y="263" font-size="10.4" text-anchor="middle" textLength="17" lengthAdjust="spacingAndGlyphs">−15</text><text x="130.7" y="263" font-size="10.4" text-anchor="middle" textLength="17" lengthAdjust="spacingAndGlyphs">−16</text><text x="159.56666666666663" y="263" font-size="10.4" text-anchor="middle" textLength="17" lengthAdjust="spacingAndGlyphs">−17</text><text x="188.43333333333334" y="263" font-size="10.4" text-anchor="middle" textLength="17" lengthAdjust="spacingAndGlyphs">−18</text><text x="217.29999999999998" y="263" font-size="10.4" text-anchor="middle" textLength="17" lengthAdjust="spacingAndGlyphs">−19</text><text x="239.0" y="263" font-size="10.4" text-anchor="middle" textLength="17" lengthAdjust="spacingAndGlyphs">−13</text><text x="273.68" y="263" font-size="10.4" text-anchor="middle" textLength="17" lengthAdjust="spacingAndGlyphs">−14</text><text x="308.36" y="263" font-size="10.4" text-anchor="middle" textLength="17" lengthAdjust="spacingAndGlyphs">−15</text><text x="343.04" y="263" font-size="10.4" text-anchor="middle" textLength="17" lengthAdjust="spacingAndGlyphs">−16</text><text x="377.72" y="263" font-size="10.4" text-anchor="middle" textLength="17" lengthAdjust="spacingAndGlyphs">−17</text><text x="412.40000000000003" y="263" font-size="10.4" text-anchor="middle" textLength="17" lengthAdjust="spacingAndGlyphs">−18</text><text x="434.20000000000005" y="263" font-size="10.4" text-anchor="middle" textLength="24" lengthAdjust="spacingAndGlyphs">−11.5</text><text x="477.52500000000003" y="263" font-size="10.4" text-anchor="middle" textLength="24" lengthAdjust="spacingAndGlyphs">−12.5</text><text x="520.85" y="263" font-size="10.4" text-anchor="middle" textLength="24" lengthAdjust="spacingAndGlyphs">−13.5</text><text x="564.1750000000001" y="263" font-size="10.4" text-anchor="middle" textLength="24" lengthAdjust="spacingAndGlyphs">−14.5</text><text x="607.5" y="263" font-size="10.4" text-anchor="middle" textLength="24" lengthAdjust="spacingAndGlyphs">−15.5</text><text x="94.0" y="279.4" font-size="16" textLength="11.9" lengthAdjust="spacingAndGlyphs">M</text><text x="106.4" y="281.0" font-size="11.5" font-style="italic" textLength="20.6" lengthAdjust="spacingAndGlyphs">max</text><text x="133.1" y="279.4" font-size="15" textLength="32.9" lengthAdjust="spacingAndGlyphs">[Mag]</text><text x="291.1" y="279.4" font-size="16" textLength="11.9" lengthAdjust="spacingAndGlyphs">M</text><text x="303.4" y="281.0" font-size="11.5" font-style="italic" textLength="16.1" lengthAdjust="spacingAndGlyphs">end</text><text x="326.2" y="279.4" font-size="15" textLength="32.9" lengthAdjust="spacingAndGlyphs">[Mag]</text><text x="486.1" y="279.4" font-size="16" textLength="11.9" lengthAdjust="spacingAndGlyphs">M</text><text x="498.4" y="281.0" font-size="11.5" font-style="italic" textLength="15.6" lengthAdjust="spacingAndGlyphs">tail</text><text x="521.0" y="279.4" font-size="15" textLength="32.5" lengthAdjust="spacingAndGlyphs">[Mag]</text><text x="58.0" y="17.1" font-size="12.8" letter-spacing="0.2">n=79</text><text x="58.0" y="27.0" font-size="12.8"><tspan font-style="italic">ρ</tspan><tspan x="67.6" font-size="14" dy="0.6">=</tspan><tspan x="80.2" dy="-0.6">−0.54</tspan></text><text x="58.0" y="39.7" font-size="12.8">P=3.50e-7</text><text x="255.9" y="17.1" font-size="12.8" letter-spacing="0.2">n=80</text><text x="255.9" y="27.0" font-size="12.8"><tspan font-style="italic">ρ</tspan><tspan x="265.5" font-size="14" dy="0.6">=</tspan><tspan x="278.1" dy="-0.6">−0.45</tspan></text><text x="255.9" y="39.7" font-size="12.8">P=2.50e-5</text><text x="455.1" y="17.1" font-size="12.8" letter-spacing="0.2">n=29</text><text x="455.1" y="27.0" font-size="12.8"><tspan font-style="italic">ρ</tspan><tspan x="464.70000000000005" font-size="14" dy="0.6">=</tspan><tspan x="477.3" dy="-0.6">−0.62</tspan></text><text x="455.1" y="39.7" font-size="12.8">P=3.1e-4</text><text x="55" y="247.0" font-size="8.5"><tspan font-style="italic" font-size="9.5">ρ</tspan><tspan font-style="italic" font-size="7" dy="0.8">val</tspan><tspan x="72.0" dy="-0.6" font-size="10">=</tspan><tspan x="80.9" dy="-0.2">0.04</tspan></text><text x="251.7" y="247.0" font-size="8.5"><tspan font-style="italic" font-size="9.5">ρ</tspan><tspan font-style="italic" font-size="7" dy="0.8">val</tspan><tspan x="268.7" dy="-0.6" font-size="10">=</tspan><tspan x="277.59999999999997" dy="-0.2">0.05</tspan></text><text x="437.6" y="247.0" font-size="8.5"><tspan font-style="italic" font-size="9.5">ρ</tspan><tspan font-style="italic" font-size="7" dy="0.8">val</tspan><tspan x="454.6" dy="-0.6" font-size="10">=</tspan><tspan x="463.5" dy="-0.2">0.42</tspan></text><text x="649.1" y="190.6" font-size="8.5"><tspan font-style="italic" font-size="9.5">ρ</tspan><tspan font-style="italic" font-size="7" dy="0.8">val</tspan><tspan x="666.1" dy="-0.6" font-size="10">=</tspan><tspan x="675.0" dy="-0.2">0.07</tspan></text></g>
</svg></body></html>
